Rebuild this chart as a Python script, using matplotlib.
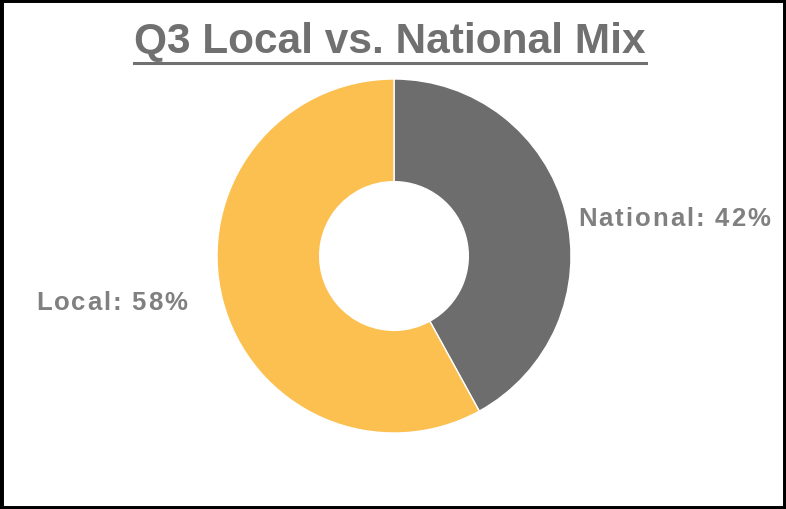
import matplotlib
matplotlib.use("Agg")
import matplotlib.pyplot as plt
from matplotlib.patches import Rectangle
from matplotlib.lines import Line2D

categories = ["National", "Local"]
shares = [42, 58]
colors = ["#6D6D6D", "#FBC04F"]

W, H = 786, 510
fig = plt.figure(figsize=(W / 100, H / 100), dpi=100)
fig.patch.set_facecolor("white")

ax = fig.add_axes([0, 0, 1, 1])
cx, cy, R = 394, H - 257, 177
ax.pie(shares, colors=colors, startangle=90, counterclock=False,
       center=(cx, cy), radius=R,
       wedgeprops=dict(width=R * 0.58, edgecolor="white", linewidth=1.0))
ax.set_xlim(0, W)
ax.set_ylim(0, H)
ax.set_aspect("equal")
ax.axis("off")

fig.canvas.draw()
renderer = fig.canvas.get_renderer()

# Title with underline
title = fig.text(390 / W, 1 - 42 / H, "Q3 Local vs. National Mix",
                 fontsize=30.5, fontweight="bold", color="#707070",
                 family="Liberation Sans", ha="center", va="center")
bb = title.get_window_extent(renderer)
fig.add_artist(Line2D([bb.x0 / W, bb.x1 / W], [(H - 64) / H, (H - 64) / H],
                      transform=fig.transFigure, color="#707070", linewidth=2.2))


def tracked_text(x_px, y_px, s, total_width, **kw):
    """Draw a string left-aligned at pixel position, spreading the letters
    so the whole string spans total_width pixels."""
    pieces, widths = [], []
    for ch in s:
        t = fig.text(0, 0, ch, ha="left", va="center", **kw)
        w = t.get_window_extent(renderer).width
        if ch == " ":
            w = kw.get("fontsize", 12) * 0.25 * 100 / 72
        pieces.append(t)
        widths.append(w)
    gap = (total_width - sum(widths)) / max(len(s) - 1, 1)
    x = x_px
    for t, w in zip(pieces, widths):
        t.set_position((x / W, 1 - y_px / H))
        x += w + gap


label_kw = dict(fontsize=18.5, fontweight="bold", color="#808080",
                family="Liberation Sans")
lab_nat = f"{categories[0]}: {shares[0]}%"
lab_loc = f"{categories[1]}: {shares[1]}%"
tracked_text(578, 219, lab_nat, 192, **label_kw)
tracked_text(36, 303, lab_loc, 151, **label_kw)

# Chart border
fig.add_artist(Rectangle((0, 0), 1, 1, transform=fig.transFigure,
                         fill=False, edgecolor="black", linewidth=5))

fig.savefig("out.png", dpi=100, facecolor="white")
